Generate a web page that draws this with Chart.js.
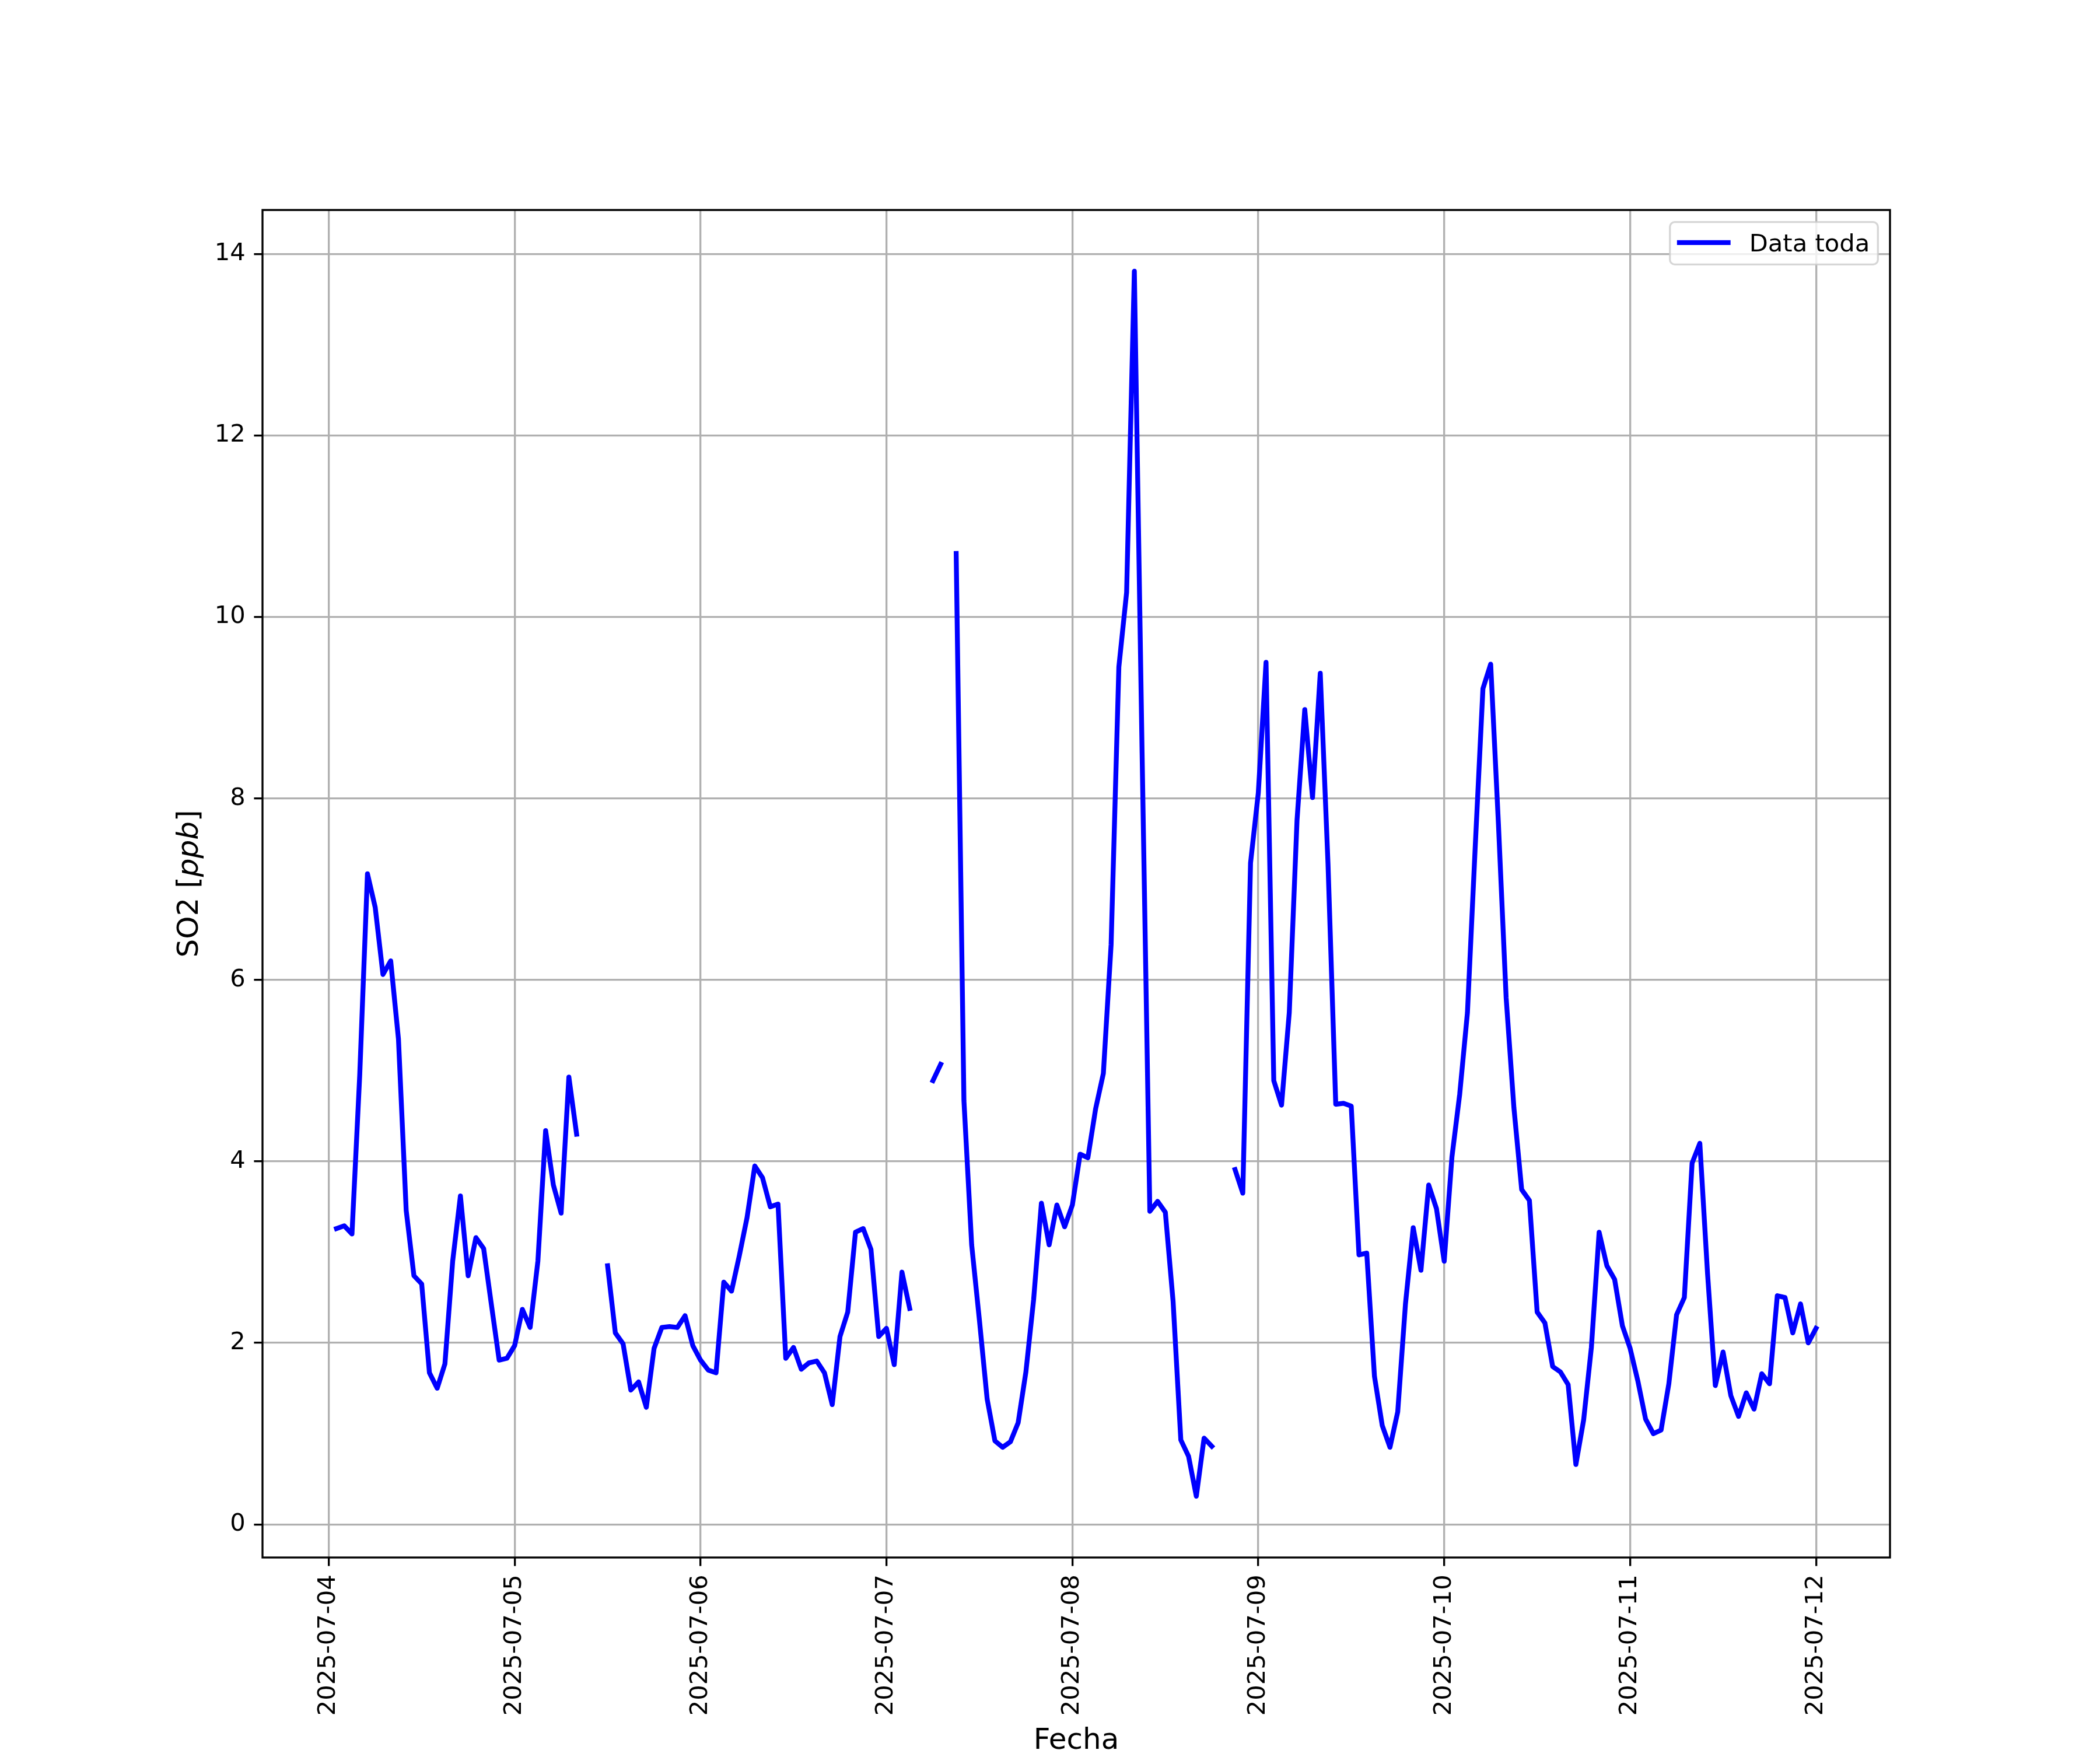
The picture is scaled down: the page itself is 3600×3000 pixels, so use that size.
<!DOCTYPE html>
<html>
<head>
<meta charset="utf-8">
<script src="https://cdn.jsdelivr.net/npm/chart.js@4.4.1/dist/chart.umd.min.js"></script>
<style>
  html, body { margin: 0; padding: 0; background: #ffffff; }
  #wrap { width: 3600px; height: 3000px; }
</style>
</head>
<body>
<div id="wrap"><canvas id="c" width="3600" height="3000" style="width:3600px;height:3000px"></canvas></div>
<script>
// ---- Data (hourly SO2 in ppb, index = hour of day 00..23) ----
const dayLabels = ['2025-07-04', '2025-07-05', '2025-07-06', '2025-07-07', '2025-07-08',
                   '2025-07-09', '2025-07-10', '2025-07-11', '2025-07-12'];
const so2Jul04 = [null, 3.26, 3.29, 3.20, 4.95, 7.17, 6.80, 6.06, 6.21, 5.35, 3.46, 2.74,
                  2.65, 1.67, 1.50, 1.77, 2.90, 3.62, 2.74, 3.16, 3.04, 2.42, 1.81, 1.83];
const so2Jul05 = [1.97, 2.37, 2.17, 2.90, 4.34, 3.74, 3.43, 4.93, 4.30, null, null, null,
                  2.85, 2.11, 1.99, 1.48, 1.57, 1.29, 1.94, 2.17, 2.18, 2.17, 2.30, 1.97];
const so2Jul06 = [1.81, 1.70, 1.67, 2.67, 2.57, 2.96, 3.38, 3.95, 3.82, 3.50, 3.53, 1.83,
                  1.95, 1.71, 1.78, 1.80, 1.67, 1.32, 2.07, 2.34, 3.22, 3.26, 3.03, 2.07];
const so2Jul07 = [2.16, 1.76, 2.78, 2.38, null, null, 4.89, 5.07, null, 10.70, 4.67, 3.08,
                  2.25, 1.38, 0.92, 0.85, 0.91, 1.12, 1.68, 2.48, 3.54, 3.08, 3.52, 3.28];
const so2Jul08 = [3.52, 4.08, 4.04, 4.58, 4.97, 6.39, 9.45, 10.27, 13.81, 8.50, 3.45, 3.56,
                  3.44, 2.46, 0.93, 0.75, 0.31, 0.95, 0.86, null, null, 3.91, 3.65, 7.29];
const so2Jul09 = [8.06, 9.50, 4.89, 4.62, 5.64, 7.76, 8.98, 8.01, 9.38, 7.28, 4.63, 4.64,
                  4.61, 2.97, 2.99, 1.63, 1.09, 0.85, 1.24, 2.43, 3.27, 2.80, 3.74, 3.48];
const so2Jul10 = [2.90, 4.05, 4.74, 5.64, 7.46, 9.21, 9.48, 7.72, 5.80, 4.59, 3.69, 3.57,
                  2.34, 2.22, 1.74, 1.68, 1.54, 0.66, 1.15, 1.95, 3.22, 2.85, 2.70, 2.19];
const so2Jul11 = [1.94, 1.58, 1.16, 1.00, 1.04, 1.55, 2.31, 2.50, 3.98, 4.20, 2.76, 1.53,
                  1.90, 1.42, 1.19, 1.45, 1.27, 1.66, 1.55, 2.52, 2.50, 2.11, 2.43, 2.00];
const so2Jul12 = [2.16];
const yTickValues = [0, 2, 4, 6, 8, 10, 12, 14];
const seriesLabel = 'Data toda';
const xTitle = 'Fecha';

// ---- Build points (x = hours since first day 00:00) ----
const daily = [so2Jul04, so2Jul05, so2Jul06, so2Jul07, so2Jul08, so2Jul09, so2Jul10, so2Jul11, so2Jul12];
const points = [];
daily.forEach((vals, d) => vals.forEach((v, h) => points.push({ x: d * 24 + h, y: v })));
const valid = points.filter(p => p.y !== null);
const xs = valid.map(p => p.x), ys = valid.map(p => p.y);
const xLo = Math.min(...xs), xHi = Math.max(...xs);
const yLo = Math.min(...ys), yHi = Math.max(...ys);
const xPad = 0.05 * (xHi - xLo), yPad = 0.05 * (yHi - yLo);
const xTickValues = dayLabels.map((_, i) => i * 24);

const FONT = "'DejaVu Sans', 'Liberation Sans', sans-serif";
const FS = 41.67;      // tick / legend font
const FS_T = 50;       // axis title font
const LW = 3.33;
const DATA_LW = 8.33;

const decorPlugin = {
  id: 'decor',
  afterDraw(chart) {
    const { ctx, chartArea: a } = chart;
    ctx.save();
    // frame (spines)
    ctx.strokeStyle = '#000000';
    ctx.lineWidth = LW;
    ctx.lineJoin = 'miter';
    ctx.strokeRect(a.left, a.top, a.right - a.left, a.bottom - a.top);

    // legend
    const bx = a.right - 377.3, by = a.top + 20.7, bw = 356.6, bh = 72.6, r = 8.3;
    ctx.beginPath();
    ctx.moveTo(bx + r, by);
    ctx.lineTo(bx + bw - r, by);
    ctx.arcTo(bx + bw, by, bx + bw, by + r, r);
    ctx.lineTo(bx + bw, by + bh - r);
    ctx.arcTo(bx + bw, by + bh, bx + bw - r, by + bh, r);
    ctx.lineTo(bx + r, by + bh);
    ctx.arcTo(bx, by + bh, bx, by + bh - r, r);
    ctx.lineTo(bx, by + r);
    ctx.arcTo(bx, by, bx + r, by, r);
    ctx.closePath();
    ctx.fillStyle = 'rgba(255,255,255,0.8)';
    ctx.fill();
    ctx.strokeStyle = 'rgba(204,204,204,0.8)';
    ctx.lineWidth = LW;
    ctx.stroke();
    ctx.beginPath();
    ctx.strokeStyle = '#0000ff';
    ctx.lineWidth = DATA_LW;
    ctx.lineCap = 'square';
    ctx.moveTo(bx + 16.3, by + 35.2);
    ctx.lineTo(bx + 99.8, by + 35.2);
    ctx.stroke();
    ctx.fillStyle = '#000000';
    ctx.font = FS + 'px ' + FONT;
    ctx.textAlign = 'left';
    ctx.textBaseline = 'alphabetic';
    ctx.fillText(seriesLabel, bx + 136, by + 50.5);

    // x axis title
    ctx.font = FS_T + 'px ' + FONT;
    ctx.textAlign = 'center';
    ctx.fillText(xTitle, (a.left + a.right) / 2, 2998);

    // y axis title: SO2 [ppb] with italic ppb
    const parts = [['SO2 [', FS_T + 'px ' + FONT], ['ppb', 'italic ' + FS_T + 'px ' + FONT], [']', FS_T + 'px ' + FONT]];
    ctx.translate(339, (a.top + a.bottom) / 2);
    ctx.rotate(-Math.PI / 2);
    ctx.textAlign = 'left';
    let total = 0;
    parts.forEach(p => { ctx.font = p[1]; total += ctx.measureText(p[0]).width; });
    let cx = -total / 2;
    parts.forEach(p => { ctx.font = p[1]; ctx.fillText(p[0], cx, 0); cx += ctx.measureText(p[0]).width; });
    ctx.restore();
  }
};

new Chart(document.getElementById('c'), {
  type: 'line',
  data: {
    datasets: [{
      label: seriesLabel,
      data: points,
      borderColor: '#0000ff',
      backgroundColor: '#0000ff',
      borderWidth: DATA_LW,
      pointRadius: 0,
      pointHoverRadius: 0,
      tension: 0,
      spanGaps: false,
      borderCapStyle: 'square',
      borderJoinStyle: 'round',
      fill: false
    }]
  },
  options: {
    responsive: false,
    maintainAspectRatio: false,
    devicePixelRatio: 1,
    animation: false,
    events: [],
    layout: { padding: { left: 0, right: 360, top: 360, bottom: 0 } },
    plugins: { legend: { display: false }, tooltip: { enabled: false }, title: { display: false } },
    scales: {
      x: {
        type: 'linear',
        position: 'bottom',
        min: xLo - xPad,
        max: xHi + xPad,
        afterBuildTicks: s => { s.ticks = xTickValues.map(v => ({ value: v })); },
        afterFit: s => { s.height = 330; },
        border: { display: false },
        grid: { color: '#b0b0b0', lineWidth: LW, drawTicks: true, tickLength: 14.58, tickColor: '#000000', tickWidth: LW },
        ticks: {
          autoSkip: false,
          minRotation: 90,
          maxRotation: 90,
          padding: 14.58,
          color: '#000000',
          font: { family: FONT, size: FS },
          callback: v => dayLabels[Math.round(v / 24)]
        }
      },
      y: {
        type: 'linear',
        position: 'left',
        min: yLo - yPad,
        max: yHi + yPad,
        afterBuildTicks: s => { s.ticks = yTickValues.map(v => ({ value: v })); },
        afterFit: s => { s.width = 450; },
        border: { display: false },
        grid: { color: '#b0b0b0', lineWidth: LW, drawTicks: true, tickLength: 14.58, tickColor: '#000000', tickWidth: LW },
        ticks: {
          padding: 14.58,
          color: '#000000',
          font: { family: FONT, size: FS },
          callback: v => String(v)
        }
      }
    }
  },
  plugins: [decorPlugin]
});
</script>
</body>
</html>
